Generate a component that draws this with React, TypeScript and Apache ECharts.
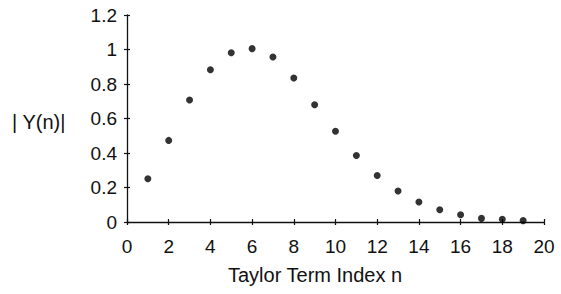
import React, { useEffect, useRef } from "react";
import * as echarts from "echarts";

const termIndex = [1, 2, 3, 4, 5, 6, 7, 8, 9, 10, 11, 12, 13, 14, 15, 16, 17, 18, 19];
const magnitude = [0.251, 0.473, 0.707, 0.883, 0.981, 1.005, 0.957, 0.835, 0.68, 0.526, 0.385, 0.27, 0.18, 0.116, 0.071, 0.042, 0.021, 0.016, 0.008];
const xTitle = "Taylor Term Index n";
const yTitle = "| Y(n)|";

export default function App() {
  const ref = useRef<HTMLDivElement>(null);
  useEffect(() => {
    if (!ref.current) return;
    const chart = echarts.init(ref.current, null, { renderer: "svg" });
    const font = "'Liberation Sans', Arial, Helvetica, sans-serif";
    const axisCommon = {
      type: "value" as const,
      splitLine: { show: false },
    };
    chart.setOption({
      animation: false,
      backgroundColor: "#fff",
      grid: { left: 127, right: 17, top: 15, bottom: 72, containLabel: false },
      xAxis: [
        {
          ...axisCommon,
          min: 0,
          max: 20,
          interval: 2,
          axisLine: { show: true, lineStyle: { color: "#111", width: 1.3 } },
          axisTick: { show: true, inside: false, length: 3, lineStyle: { color: "#111", width: 1.2 } },
          axisLabel: { color: "#111", fontSize: 19, fontFamily: font, margin: 15 },
        },
        {
          ...axisCommon,
          min: 0,
          max: 20,
          interval: 2,
          position: "bottom",
          axisLine: { show: false },
          axisTick: { show: true, inside: true, length: 3, lineStyle: { color: "#111", width: 1.2 } },
          axisLabel: { show: false },
        },
      ],
      yAxis: [
        {
          ...axisCommon,
          min: 0,
          max: 1.2,
          interval: 0.2,
          axisLine: { show: true, lineStyle: { color: "#111", width: 1.3 } },
          axisTick: { show: true, inside: false, length: 3, lineStyle: { color: "#111", width: 1.2 } },
          axisLabel: {
            color: "#111",
            fontSize: 19,
            fontFamily: font,
            margin: 10,
            formatter: (v: number) => String(Math.round(v * 10) / 10),
          },
        },
        {
          ...axisCommon,
          min: 0,
          max: 1.2,
          interval: 0.2,
          position: "left",
          axisLine: { show: false },
          axisTick: { show: true, inside: true, length: 3, lineStyle: { color: "#111", width: 1.2 } },
          axisLabel: { show: false },
        },
      ],
      graphic: [
        {
          type: "text",
          left: 228,
          top: 265,
          style: { text: xTitle, fill: "#111", font: `20px ${font}` },
        },
        {
          type: "text",
          left: 12,
          top: 112,
          style: { text: yTitle, fill: "#111", font: `20px ${font}` },
        },
      ],
      series: [
        {
          type: "scatter",
          data: termIndex.map((n, i) => [n, magnitude[i]]),
          symbol: "circle",
          symbolSize: 7,
          itemStyle: { color: "#000" },
        },
      ],
    });
    return () => chart.dispose();
  }, []);
  return <div ref={ref} style={{ width: 561, height: 294, position: "absolute", left: 0, top: 0 }} />;
}
